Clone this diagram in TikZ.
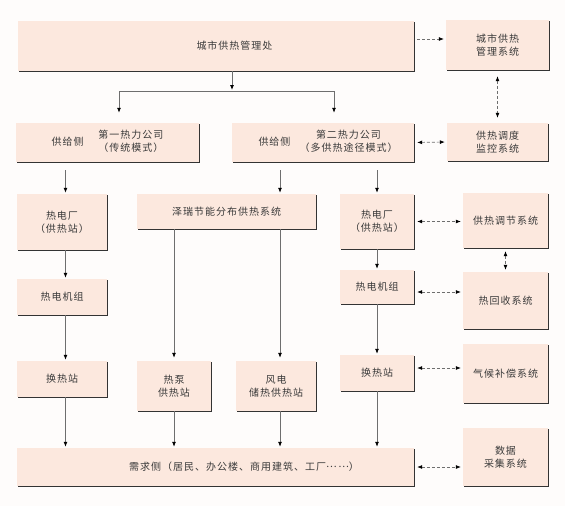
\documentclass[tikz,border=0pt]{standalone}
\usepackage{fontspec}
\usetikzlibrary{arrows.meta,shadows}
\newfontfamily\cjk[LetterSpace=10]{Noto Sans CJK SC}
\definecolor{boxfill}{HTML}{FCE8DE}
\definecolor{inkgray}{HTML}{3A3A3A}
\definecolor{linegray}{HTML}{6E6E6E}
\definecolor{paper}{HTML}{FEFCFB}

\begin{document}
\begin{tikzpicture}[x=1pt,y=-1pt,
      >={Latex[length=5pt,width=4pt,color=black]},
      box/.style={fill=boxfill, text=inkgray, align=center, inner sep=0pt,
        font=\cjk\fontsize{10}{13}\selectfont,
        drop shadow={shadow xshift=1.4pt, shadow yshift=-1.4pt, fill=black!80, opacity=1}},
      flow/.style={draw=linegray, line width=0.8pt, ->, shorten >=1pt},
      link/.style={draw=linegray, line width=0.7pt, dash pattern=on 3pt off 2pt,
        shorten <=3pt, shorten >=2pt}]
      \fill[paper] (0,0) rectangle (565,506);

      % Define nodes
      \node[box, minimum width=396pt, minimum height=50pt] (office) at (216,46) {\hspace*{37pt}城市供热管理处};
      \node[box, minimum width=103pt, minimum height=50pt] (citysys) at (497.5,45) {城市供热\\管理系统};
      \node[box, minimum width=183pt, minimum height=39pt] (firstco) at (107.5,142.5)
        {供给侧\hspace{15pt}\begin{tabular}{@{}c@{}}第一热力公司\\（传统模式）\end{tabular}};
      \node[box, minimum width=182pt, minimum height=39pt] (secondco) at (323,142.5)
        {\hspace*{10pt}供给侧\hspace{9pt}\begin{tabular}{@{}c@{}}第二热力公司\\（多供热途径模式）\end{tabular}};
      \node[box, minimum width=101pt, minimum height=38pt] (dispatch) at (497.5,142) {供热调度\\监控系统};
      \node[box, minimum width=90pt, minimum height=56pt] (plantA) at (62,222) {热电厂\\（供热站）};
      \node[box, minimum width=179pt, minimum height=35pt] (zerui) at (226.5,211.5) {泽瑞节能分布供热系统};
      \node[box, minimum width=74pt, minimum height=55pt] (plantB) at (377,221.5) {热电厂\\（供热站）};
      \node[box, minimum width=85pt, minimum height=55pt] (regulate) at (505.5,220.5) {供热调节系统};
      \node[box, minimum width=90pt, minimum height=36pt] (unitA) at (62,297) {热电机组};
      \node[box, minimum width=74pt, minimum height=34pt] (unitB) at (377,287) {热电机组};
      \node[box, minimum width=85pt, minimum height=57pt] (recover) at (505.5,300.5) {热回收系统};
      \node[box, minimum width=90pt, minimum height=36pt] (stationA) at (62,379) {换热站};
      \node[box, minimum width=74pt, minimum height=50pt] (pump) at (174,386) {热泵\\供热站};
      \node[box, minimum width=80pt, minimum height=50pt] (wind) at (276,386) {风电\\储热供热站};
      \node[box, minimum width=74pt, minimum height=36pt] (stationB) at (377,373) {换热站};
      \node[box, minimum width=85pt, minimum height=59pt] (climate) at (505.5,373.5) {气候补偿系统};
      \node[box, minimum width=85pt, minimum height=58pt] (collect) at (505.5,457) {数据\\采集系统};
      \node[box, minimum width=397pt, minimum height=38pt] (demand) at (215.5,467)
        {\hspace*{57pt}需求侧（居民、办公楼、商用建筑、工厂\raisebox{0.32em}{⋯\,⋯}）};

      % Helper points for the vertical runs
      \coordinate (split) at (232,91);
      \coordinate (colA) at (65.5,0);
      \coordinate (colW) at (280,0);

      % Connect nodes with arrows for the supply chain
      \draw[flow] (split |- office.south) -- (split);
      \draw[flow, shorten >=10pt] (split) -| ([xshift=11.5pt]firstco.north);
      \draw[flow, shorten >=10pt] (split) -| ([xshift=11pt]secondco.north);
      \draw[flow, shorten <=8pt] (colA |- firstco.south) -- (colA |- plantA.north);
      \draw[flow] (colA |- plantA.south) -- (colA |- unitA.north);
      \draw[flow] (colA |- unitA.south) -- (colA |- stationA.north);
      \draw[flow] (colA |- stationA.south) -- (colA |- demand.north);
      \draw[flow, shorten <=8pt] (colW |- secondco.south) -- (colW |- zerui.north);
      \draw[flow, shorten <=8pt] (plantB.north |- secondco.south) -- (plantB.north);
      \draw[flow, shorten >=3pt] (zerui.south -| pump.north) -- (pump.north);
      \draw[flow, shorten >=3pt] (colW |- zerui.south) -- (colW |- wind.north);
      \draw[flow] (pump.south) -- (pump.south |- demand.north);
      \draw[flow] (colW |- wind.south) -- (colW |- demand.north);
      \draw[flow] (plantB) -- (unitB);
      \draw[flow] (unitB) -- (stationB);
      \draw[flow] (stationB.south) -- (stationB.south |- demand.north);

      % Dashed links to the control systems
      \coordinate (m1) at ([yshift=7pt]office.east);
      \coordinate (m2) at ([yshift=-5pt]unitB.east);
      \coordinate (m3) at ([yshift=5pt]stationB.east);
      \draw[link, ->] (m1) -- (m1 -| citysys.west);
      \draw[link, <->, shorten <=6pt, shorten >=5pt] (citysys.south) -- (dispatch.north);
      \draw[link, <->] (secondco.east) -- (dispatch.west);
      \draw[link, <->] (plantB.east) -- (plantB.east -| regulate.west);
      \draw[link, <->] (regulate.south) -- (recover.north);
      \draw[link, <->] (m2) -- (m2 -| recover.west);
      \draw[link, <->] (m3) -- (m3 -| climate.west);
      \draw[link, <->] (demand.east) -- (demand.east -| collect.west);
    \end{tikzpicture}
\end{document}
